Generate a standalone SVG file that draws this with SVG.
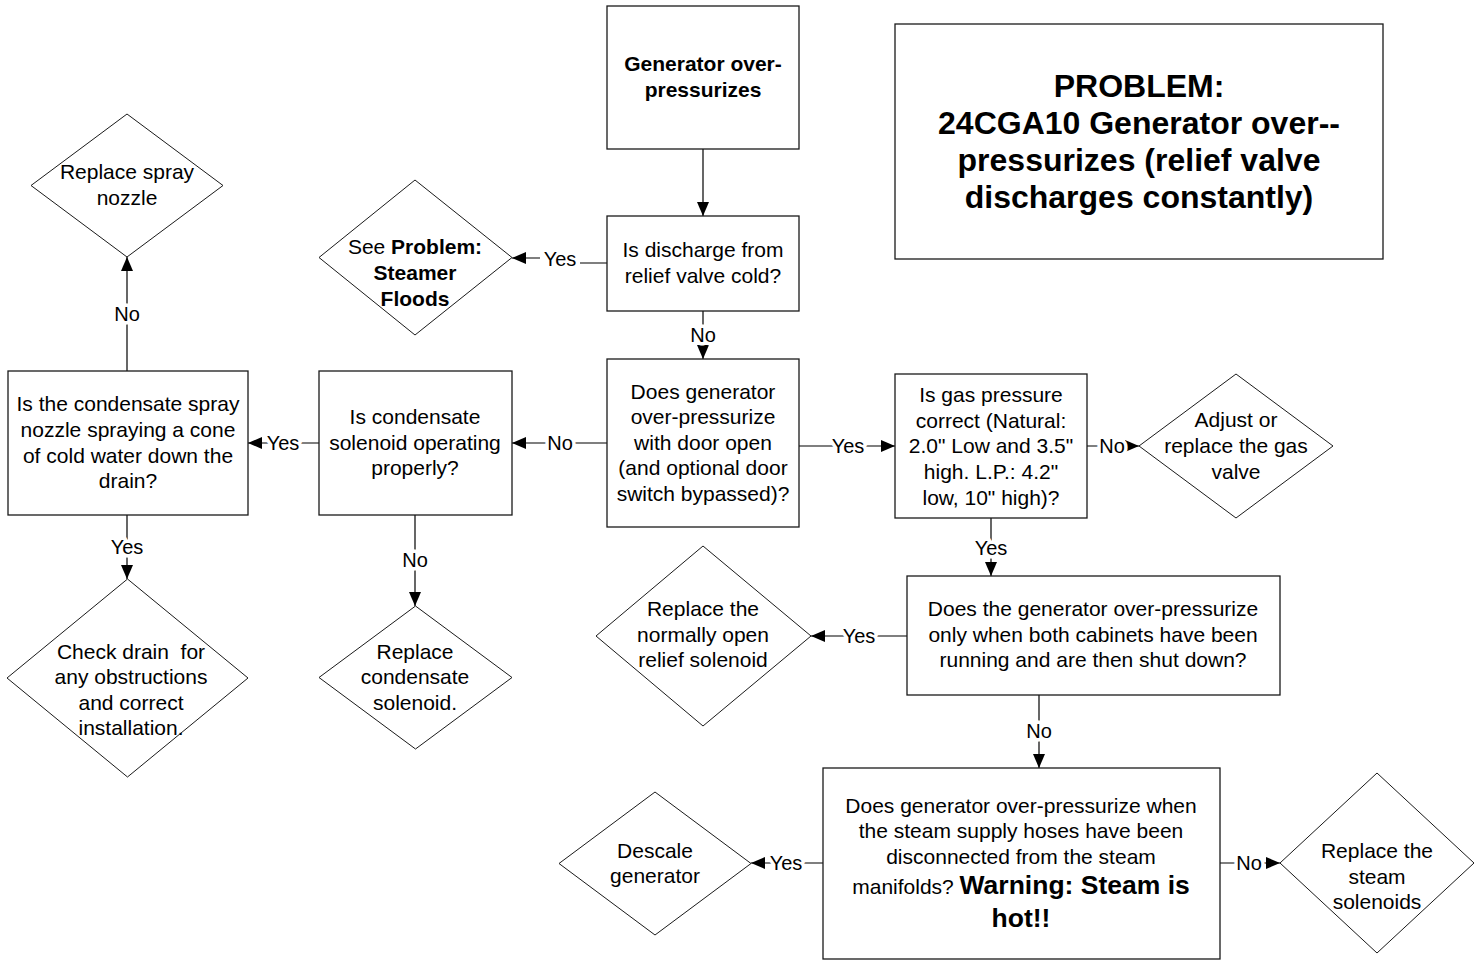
<svg xmlns="http://www.w3.org/2000/svg" width="1478" height="962" viewBox="0 0 1478 962">
<style>
  .box { fill: #fff; stroke: #1a1a1a; stroke-width: 1.3; }
  .dia { fill: #fff; stroke: #1a1a1a; stroke-width: 1; }
  .t { font-family: "Liberation Sans", Arial, sans-serif; font-size: 21px; fill: #000; text-anchor: middle; }
  .b { font-weight: bold; }
  .warn { font-weight: bold; font-size: 26.5px; }
  .title { font-family: "Liberation Sans", Arial, sans-serif; font-size: 32px; font-weight: bold; fill: #000; text-anchor: middle; }
  .lbl { font-family: "Liberation Sans", Arial, sans-serif; font-size: 20px; fill: #000; text-anchor: middle; stroke: #fff; stroke-width: 7px; paint-order: stroke; stroke-linejoin: round; }
  .ln { fill: none; stroke: #000; stroke-width: 1.2; }
</style>
<defs>
  <marker id="ah" viewBox="0 0 14 12" refX="14" refY="6" markerWidth="14" markerHeight="12" markerUnits="userSpaceOnUse" orient="auto">
    <path d="M0,0 L14,6 L0,12 Z" fill="#000"/>
  </marker>
</defs>
<rect width="1478" height="962" fill="#fff"/>

<g id="connectors">
  <line class="ln" x1="703" y1="149" x2="703" y2="216" marker-end="url(#ah)"/>
  <path class="ln" d="M607,263 H580 M540,258 H512" marker-end="url(#ah)"/>
  <text class="lbl" x="560" y="266">Yes</text>
  <line class="ln" x1="703" y1="311" x2="703" y2="359" marker-end="url(#ah)"/>
  <text class="lbl" x="703" y="342">No</text>
  <line class="ln" x1="607" y1="443" x2="512" y2="443" marker-end="url(#ah)"/>
  <text class="lbl" x="560" y="450">No</text>
  <line class="ln" x1="799" y1="446" x2="895" y2="446" marker-end="url(#ah)"/>
  <text class="lbl" x="848" y="453">Yes</text>
  <line class="ln" x1="1087" y1="446" x2="1139" y2="446" marker-end="url(#ah)"/>
  <text class="lbl" x="1112" y="453">No</text>
  <line class="ln" x1="991" y1="518" x2="991" y2="576" marker-end="url(#ah)"/>
  <text class="lbl" x="991" y="555">Yes</text>
  <line class="ln" x1="907" y1="636" x2="811" y2="636" marker-end="url(#ah)"/>
  <text class="lbl" x="859" y="643">Yes</text>
  <line class="ln" x1="1039" y1="695" x2="1039" y2="768" marker-end="url(#ah)"/>
  <text class="lbl" x="1039" y="738">No</text>
  <line class="ln" x1="823" y1="863" x2="751" y2="863" marker-end="url(#ah)"/>
  <text class="lbl" x="786" y="870">Yes</text>
  <line class="ln" x1="1220" y1="863" x2="1280" y2="863" marker-end="url(#ah)"/>
  <text class="lbl" x="1249" y="870">No</text>
  <line class="ln" x1="319" y1="443" x2="248" y2="443" marker-end="url(#ah)"/>
  <text class="lbl" x="283" y="450">Yes</text>
  <line class="ln" x1="415" y1="515" x2="415" y2="606" marker-end="url(#ah)"/>
  <text class="lbl" x="415" y="567">No</text>
  <line class="ln" x1="127" y1="371" x2="127" y2="257" marker-end="url(#ah)"/>
  <text class="lbl" x="127" y="321">No</text>
  <line class="ln" x1="127" y1="515" x2="127" y2="579" marker-end="url(#ah)"/>
  <text class="lbl" x="127" y="554">Yes</text>
</g>

<g id="n-title">
  <rect class="box" x="895" y="24" width="488" height="235"/>
  <text class="title" x="1139" y="97">PROBLEM:</text>
  <text class="title" x="1139" y="134">24CGA10 Generator over--</text>
  <text class="title" x="1139" y="171">pressurizes (relief valve</text>
  <text class="title" x="1139" y="208">discharges constantly)</text>
</g>

<g id="n-start">
  <rect class="box" x="607" y="6" width="192" height="143"/>
  <text class="t b" x="703" y="71">Generator over-</text>
  <text class="t b" x="703" y="97">pressurizes</text>
</g>

<g id="n-discharge">
  <rect class="box" x="607" y="216" width="192" height="95"/>
  <text class="t" x="703" y="257">Is discharge from</text>
  <text class="t" x="703" y="283">relief valve cold?</text>
</g>

<g id="n-floods">
  <polygon class="dia" points="415,180 512,257.5 415,335 319,257.5"/>
  <text class="t" x="415" y="254">See <tspan class="b">Problem:</tspan></text>
  <text class="t b" x="415" y="280">Steamer</text>
  <text class="t b" x="415" y="306">Floods</text>
</g>

<g id="n-door">
  <rect class="box" x="607" y="359" width="192" height="168"/>
  <text class="t" x="703" y="399">Does generator</text>
  <text class="t" x="703" y="424">over-pressurize</text>
  <text class="t" x="703" y="450">with door open</text>
  <text class="t" x="703" y="475">(and optional door</text>
  <text class="t" x="703" y="501">switch bypassed)?</text>
</g>

<g id="n-gas">
  <rect class="box" x="895" y="374" width="192" height="144"/>
  <text class="t" x="991" y="402">Is gas pressure</text>
  <text class="t" x="991" y="428">correct (Natural:</text>
  <text class="t" x="991" y="453">2.0" Low and 3.5"</text>
  <text class="t" x="991" y="479">high. L.P.: 4.2"</text>
  <text class="t" x="991" y="505">low, 10" high)?</text>
</g>

<g id="n-adjust">
  <polygon class="dia" points="1236,374 1333,446 1236,518 1139,446"/>
  <text class="t" x="1236" y="427">Adjust or</text>
  <text class="t" x="1236" y="453">replace the gas</text>
  <text class="t" x="1236" y="479">valve</text>
</g>

<g id="n-condsol">
  <rect class="box" x="319" y="371" width="193" height="144"/>
  <text class="t" x="415" y="424">Is condensate</text>
  <text class="t" x="415" y="450">solenoid operating</text>
  <text class="t" x="415" y="475">properly?</text>
</g>

<g id="n-spray">
  <rect class="box" x="8" y="371" width="240" height="144"/>
  <text class="t" x="128" y="411">Is the condensate spray</text>
  <text class="t" x="128" y="437">nozzle spraying a cone</text>
  <text class="t" x="128" y="463">of cold water down the</text>
  <text class="t" x="128" y="488">drain?</text>
</g>

<g id="n-replspray">
  <polygon class="dia" points="127,114 223,185.5 127,257 31,185.5"/>
  <text class="t" x="127" y="179">Replace spray</text>
  <text class="t" x="127" y="205">nozzle</text>
</g>

<g id="n-drain">
  <polygon class="dia" points="127.5,579 248,678 127.5,777 7,678"/>
  <text class="t" x="131" y="659" xml:space="preserve">Check drain  for</text>
  <text class="t" x="131" y="684">any obstructions</text>
  <text class="t" x="131" y="710">and correct</text>
  <text class="t" x="131" y="735">installation.</text>
</g>

<g id="n-replcond">
  <polygon class="dia" points="415.5,606 512,677.5 415.5,749 319,677.5"/>
  <text class="t" x="415" y="659">Replace</text>
  <text class="t" x="415" y="684">condensate</text>
  <text class="t" x="415" y="710">solenoid.</text>
</g>

<g id="n-cabinets">
  <rect class="box" x="907" y="576" width="373" height="119"/>
  <text class="t" x="1093" y="616">Does the generator over-pressurize</text>
  <text class="t" x="1093" y="642">only when both cabinets have been</text>
  <text class="t" x="1093" y="667">running and are then shut down?</text>
</g>

<g id="n-relief">
  <polygon class="dia" points="703,546 811,636 703,726 596,636"/>
  <text class="t" x="703" y="616">Replace the</text>
  <text class="t" x="703" y="642">normally open</text>
  <text class="t" x="703" y="667">relief solenoid</text>
</g>

<g id="n-hoses">
  <rect class="box" x="823" y="768" width="397" height="191"/>
  <text class="t" x="1021" y="813">Does generator over-pressurize when</text>
  <text class="t" x="1021" y="838">the steam supply hoses have been</text>
  <text class="t" x="1021" y="864">disconnected from the steam</text>
  <text class="t" x="1021" y="894">manifolds? <tspan class="warn">Warning: Steam is</tspan></text>
  <text class="t warn" x="1021" y="927">hot!!</text>
</g>

<g id="n-descale">
  <polygon class="dia" points="655,792 751,863.5 655,935 559,863.5"/>
  <text class="t" x="655" y="858">Descale</text>
  <text class="t" x="655" y="883">generator</text>
</g>

<g id="n-steamsol">
  <polygon class="dia" points="1377,773 1474,863 1377,953 1280,863"/>
  <text class="t" x="1377" y="858">Replace the</text>
  <text class="t" x="1377" y="884">steam</text>
  <text class="t" x="1377" y="909">solenoids</text>
</g>
</svg>
